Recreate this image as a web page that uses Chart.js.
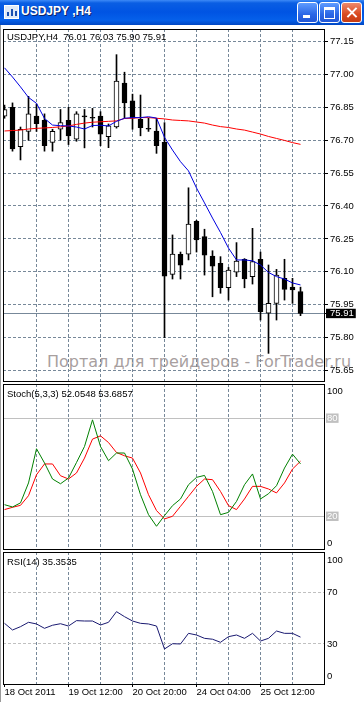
<!DOCTYPE html>
<html><head><meta charset="utf-8">
<script src="https://cdn.jsdelivr.net/npm/chart.js@4/dist/chart.umd.min.js"></script>
<style>
html,body{margin:0;padding:0;background:#fff;width:364px;height:702px;overflow:hidden}
body{position:relative;font-family:'Liberation Sans',Arial,sans-serif}
#tb{position:absolute;left:0;top:0;width:364px;height:25px;
 background:linear-gradient(#3d8af7 0px,#0a5ee3 3px,#0054e3 12px,#0560ea 20px,#0046c2 25px)}
#tbt{position:absolute;left:21px;top:4px;color:#fff;font:bold 12px 'Liberation Sans',Arial,sans-serif;line-height:15px;white-space:pre;text-shadow:1px 1px 0 #0a246a}
#ico{position:absolute;left:4px;top:5px;width:13px;height:12px;background:#dfe9f7;border:1px solid #fff}
#ico i{position:absolute;bottom:2px;width:2px;background:#1a4fb0}
.btn{position:absolute;top:2px;width:19px;height:19px;border:1px solid #fff;border-radius:3px;
 background:linear-gradient(#5f9cff,#2b67e6 60%,#2257d6)}
#bc{background:linear-gradient(#ee8a6d,#d9491f 60%,#c63d15)}
#bmin i{position:absolute;left:5px;top:12px;width:7px;height:3px;background:#fff}
#bmax i{position:absolute;left:4px;top:4px;width:9px;height:8px;border:1px solid #fff;border-top-width:3px}
#bc i{position:absolute;left:9px;top:3px;width:2px;height:13px;background:#fff}
#bc i.a{transform:rotate(45deg)}#bc i.b{transform:rotate(-45deg)}
#lb{position:absolute;left:0;top:25px;width:1px;height:677px;background:#9a9a9a}
canvas{position:absolute;left:0;z-index:1}
.lbl{position:absolute;left:7px;font-size:9.5px;line-height:12px;white-space:pre;color:#000;z-index:2}
#wm{position:absolute;left:47px;top:354px;font:16px 'DejaVu Sans',sans-serif;line-height:16px;color:#a89f9f;white-space:pre;z-index:0}
</style></head>
<body>
<div id="tb"><div id="ico"><i style="left:2px;height:4px"></i><i style="left:6px;height:7px"></i><i style="left:10px;height:5px"></i></div>
<div id="tbt">USDJPY ,H4</div>
<div class="btn" id="bmin" style="left:297px"><i></i></div>
<div class="btn" id="bmax" style="left:319px"><i></i></div>
<div class="btn" id="bc" style="left:341px"><i class="a"></i><i class="b"></i></div>
</div>
<div id="lb"></div>
<div id="wm">Портал для трейдеров - ForTrader.ru</div>
<div class="lbl" id="t1" style="top:31px"></div>
<div class="lbl" id="t2" style="top:388px"></div>
<div class="lbl" id="t3" style="top:556px"></div>
<canvas id="cMain" width="364" height="353" style="top:29px"></canvas>
<canvas id="cStoch" width="364" height="166" style="top:384px"></canvas>
<canvas id="cRsi" width="364" height="150" style="top:552px"></canvas>
<script>
// ---------- data ----------
const symbol = 'USDJPY';
const timeframe = 'H4';
const opens  = [76.81,76.85,76.67,76.74,76.81,76.79,76.69,76.75,76.79,76.705,76.807,76.80,76.81,76.716,76.76,76.96,76.88,76.795,76.751,76.742,76.69,76.088,76.18,76.18,76.33,76.26,76.172,76.139,76.027,76.098,76.157,76.078,76.157,75.911,75.956,76.07,76.03,76.01];
const highs  = [76.86,76.87,76.76,76.90,76.865,76.82,76.75,76.84,76.85,76.83,76.84,76.845,76.83,76.774,77.09,77.01,76.91,76.906,76.80,76.80,76.78,76.268,76.19,76.483,76.335,76.294,76.196,76.169,76.12,76.233,76.16,76.298,76.19,76.131,76.111,76.157,76.07,76.03];
const lows   = [76.80,76.65,76.61,76.70,76.74,76.65,76.65,76.70,76.68,76.695,76.665,76.76,76.675,76.666,76.755,76.80,76.75,76.72,76.74,76.64,75.80,76.067,76.067,76.154,76.19,76.085,75.986,76.002,75.971,76.078,76.027,76.044,75.88,75.728,75.88,75.971,75.956,75.90];
const closes = [76.84,76.66,76.75,76.82,76.775,76.675,76.74,76.78,76.72,76.82,76.806,76.80,76.727,76.765,76.97,76.87,76.80,76.757,76.75,76.675,76.08,76.181,76.13,76.318,76.245,76.176,76.126,76.027,76.108,76.149,76.068,76.146,75.918,75.956,76.085,76.02,76.017,75.91];
const maFast = [77.03,76.988,76.943,76.895,76.868,76.799,76.769,76.766,76.765,76.76,76.751,76.767,76.768,76.765,76.786,76.80,76.803,76.803,76.807,76.801,76.713,76.655,76.602,76.56,76.482,76.414,76.345,76.279,76.208,76.154,76.154,76.15,76.131,76.097,76.078,76.067,76.049,76.04];
const maSlow = [76.742,76.744,76.746,76.751,76.754,76.756,76.758,76.761,76.765,76.772,76.778,76.782,76.784,76.786,76.788,76.799,76.80,76.803,76.803,76.80,76.797,76.792,76.79,76.788,76.783,76.778,76.769,76.762,76.758,76.751,76.746,76.737,76.728,76.717,76.708,76.699,76.689,76.681];
const stochMain   = [27.1,25.7,28.2,40.4,61.3,52.6,42.8,39.9,43.4,52.9,62.7,79,62.7,54,58.7,58.7,48.9,33.2,21,13.9,20.4,26.5,30.6,39.3,43.8,45,35.2,21,22.4,29.1,39.3,45.9,30.6,33.8,38.7,49.5,58,52.0548];
const stochSignal = [24.1,25.5,26.7,32.6,45.4,52,52,44.8,42.8,46.5,55.6,67.2,69.2,65.1,59,57,55.6,46.5,33.2,23.5,18.4,20,26.1,32.2,38.3,42.8,42.4,35.2,26.5,24.1,30.6,38.3,38.3,36.7,34.3,40.4,48.9,53.6857];
const rsiValues   = [46.1,40.9,43.5,46.9,45.6,42.2,44.6,45.8,44,48.2,47.9,47.9,44.8,46.9,55.2,51.3,47.9,46.1,45.6,44,26.1,30.2,30,38.3,37,34.4,33.7,31.3,35.7,37,34.4,38.3,32.3,34.4,40.1,38.3,38.3,35.3535];
const priceTicks  = [75.65,75.80,75.95,76.10,76.25,76.40,76.55,76.70,76.85,77.00,77.15];
const stochTicks  = [0,20,80,100];
const stochLevels = [20,80];
const rsiTicks    = [0,30,70,100];
const rsiLevels   = [30,70];
const gridBars    = [4,8,12,16,20,24,28,32,36];
const xTickBars   = [0,8,16,24,32];
const xTickLabels = ['18 Oct 2011','19 Oct 12:00','20 Oct 20:00','24 Oct 04:00','25 Oct 12:00'];
const watermark   = 'Портал для трейдеров - ForTrader.ru';

// ---------- helpers ----------
const N = closes.length;
const last = N - 1;
const lastClose = closes[last];
const GRID = '#778899';
const CLEAR = 'rgba(0,0,0,0)';
const FONT = {family:"'Liberation Sans', Arial, sans-serif", size:9.5};
const X_MIN = -0.1875, X_MAX = 39.9375;
const pts = arr => arr.map((v,i)=>({x:i,y:v}));
const noPad = sc => { sc.paddingTop = 0; sc.paddingBottom = 0; sc.paddingLeft = 0; sc.paddingRight = 0; };

document.getElementById('t1').textContent =
  `${symbol},${timeframe}  ${opens[last].toFixed(2)} ${highs[last].toFixed(2)} ${lows[last].toFixed(2)} ${closes[last].toFixed(2)}`;
document.getElementById('t2').textContent =
  `Stoch(5,3,3) ${stochMain[last].toFixed(4)} ${stochSignal[last].toFixed(4)}`;
document.getElementById('t3').textContent = `RSI(14) ${rsiValues[last].toFixed(4)}`;
document.getElementById('wm').textContent = watermark;

const framePlugin = {id:'frame', afterDraw(chart){
  const a = chart.chartArea, c = chart.ctx;
  c.save(); c.strokeStyle='#000'; c.lineWidth=1; c.setLineDash([]);
  c.strokeRect(a.left+0.5, a.top+0.5, a.right-a.left, a.bottom-a.top);
  c.restore();
}};

function xScale(bottom){
  const s = {
    type:'linear', min:X_MIN, max:X_MAX, offset:false,
    grid:{offset:false, color: ctx => (ctx.tick && ctx.tick.value===0) ? CLEAR : GRID, lineWidth:1, drawTicks:false},
    border:{display:false, dash:[3,2]},
    ticks:{display:false},
    afterBuildTicks: sc => { sc.ticks = gridBars.map(v=>({value:v})); },
    afterFit: sc => { sc.height = 0; noPad(sc); }
  };
  if (bottom) {
    s.grid.drawTicks = true; s.grid.tickLength = 3;
    s.grid.tickColor = ctx => (ctx.tick && xTickBars.includes(ctx.tick.value)) ? '#000' : CLEAR;
    s.ticks = {display:true, autoSkip:false, maxRotation:0, minRotation:0, align:'start', padding:0,
      color:'#000', font:FONT,
      callback: v => { const k = xTickBars.indexOf(v); return k >= 0 ? xTickLabels[k] : ''; }};
    s.afterBuildTicks = sc => { sc.ticks = [0].concat(gridBars).map(v=>({value:v})); };
    s.afterFit = sc => { sc.height = 18; noPad(sc); };
  }
  return s;
}

const common = {
  responsive:false, animation:false, events:[],
  layout:{autoPadding:false, padding:{left:3, right:0, top:0, bottom:1}},
  plugins:{legend:{display:false}, tooltip:{enabled:false}}
};

// ---------- main price chart ----------
const isUp = i => closes[i] > opens[i];
new Chart(document.getElementById('cMain'), {
  type:'bar',
  data:{datasets:[
    {type:'line', data:pts(maFast), borderColor:'#0000e0', borderWidth:1, pointRadius:0, tension:0, order:0},
    {type:'line', data:pts(maSlow), borderColor:'#ff0000', borderWidth:1, pointRadius:0, tension:0, order:1},
    {type:'bar', data:opens.map((o,i)=>({x:i, y:[o, closes[i]]})), grouped:false,
      barPercentage:1, categoryPercentage:1, maxBarThickness:5, minBarLength:1,
      backgroundColor: ctx => isUp(ctx.dataIndex) ? '#ffffff' : '#000000',
      borderColor:'#000', borderWidth:1, borderSkipped:false, order:2},
    {type:'bar', data:lows.map((l,i)=>({x:i, y:[l, highs[i]]})), grouped:false,
      barPercentage:1, categoryPercentage:1, maxBarThickness:1,
      backgroundColor:'#000', borderWidth:0, order:3}
  ]},
  options:Object.assign({}, common, {
    scales:{
      x: xScale(false),
      y:{type:'linear', position:'right', min:75.602, max:77.207, beginAtZero:false,
        grid:{color: ctx => GRID, lineWidth:1, drawTicks:true, tickLength:4, tickColor:'#000'},
        border:{display:false, dash: ctx => (ctx.tick && ctx.tick.value===lastClose) ? [] : [3,2]},
        ticks:{autoSkip:false, padding:2, font:FONT,
          color: ctx => (ctx.tick && ctx.tick.value===lastClose) ? '#fff' : '#000',
          showLabelBackdrop: ctx => !!(ctx.tick && ctx.tick.value===lastClose),
          backdropColor:'#000', backdropPadding:{top:-1, bottom:-1, left:4, right:2},
          callback: v => v.toFixed(2)},
        afterBuildTicks: sc => { sc.ticks = priceTicks.map(v=>({value:v})).concat([{value:lastClose}]); },
        afterFit: sc => { sc.width = 40; noPad(sc); }
      }
    }
  }),
  plugins:[framePlugin]
});

// ---------- stochastic ----------
new Chart(document.getElementById('cStoch'), {
  type:'line',
  data:{datasets:[
    {data:pts(stochMain), borderColor:'#008000', borderWidth:1, pointRadius:0, tension:0, order:0},
    {data:pts(stochSignal), borderColor:'#ff0000', borderWidth:1, pointRadius:0, tension:0, order:1}
  ]},
  options:Object.assign({}, common, {
    scales:{
      x: xScale(false),
      y:{type:'linear', position:'right', min:0, max:100.9,
        grid:{color: ctx => (ctx.tick && stochLevels.includes(ctx.tick.value)) ? '#c0c0c0' : CLEAR,
          lineWidth:1, drawTicks:true, tickLength:2, tickColor:CLEAR},
        border:{display:false, dash:[]},
        ticks:{autoSkip:false, padding:1, font:FONT,
          color: ctx => (ctx.tick && stochLevels.includes(ctx.tick.value)) ? '#fff' : '#000',
          showLabelBackdrop: ctx => !!(ctx.tick && stochLevels.includes(ctx.tick.value)),
          backdropColor:'#c0c0c0', backdropPadding:{top:-1, bottom:-1, left:1, right:1},
          callback: v => v === 100 ? ['', String(v)] : (v === 0 ? [String(v), ''] : String(v))},
        afterBuildTicks: sc => { sc.ticks = stochTicks.map(v=>({value:v})); },
        afterFit: sc => { sc.width = 40; noPad(sc); }
      }
    }
  }),
  plugins:[framePlugin]
});

// ---------- RSI ----------
new Chart(document.getElementById('cRsi'), {
  type:'line',
  data:{datasets:[
    {data:pts(rsiValues), borderColor:'#191970', borderWidth:1, pointRadius:0, tension:0}
  ]},
  options:Object.assign({}, common, {
    layout:{autoPadding:false, padding:{left:3, right:0, top:0, bottom:0}},
    scales:{
      x: xScale(true),
      y:{type:'linear', position:'right', min:-1.2, max:101.7,
        grid:{color: ctx => (ctx.tick && rsiLevels.includes(ctx.tick.value)) ? '#c0c0c0' : CLEAR,
          lineWidth:1, drawTicks:true, tickLength:2, tickColor:CLEAR},
        border:{display:false, dash:[3,2]},
        ticks:{autoSkip:false, padding:1, font:FONT, color:'#000',
          callback: v => v === 100 ? ['', String(v)] : (v === 0 ? [String(v), ''] : String(v))},
        afterBuildTicks: sc => { sc.ticks = rsiTicks.map(v=>({value:v})); },
        afterFit: sc => { sc.width = 40; noPad(sc); }
      }
    }
  }),
  plugins:[framePlugin]
});
</script>
</body></html>
